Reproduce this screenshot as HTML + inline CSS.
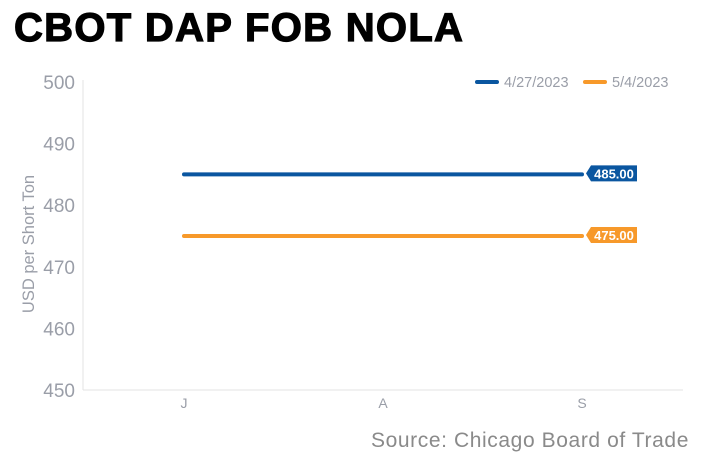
<!DOCTYPE html>
<html><head><meta charset="utf-8"><style>
body{margin:0;width:709px;height:465px;background:#fff;overflow:hidden;font-family:"Liberation Sans",sans-serif}
</style></head><body>
<svg width="709" height="465" xmlns="http://www.w3.org/2000/svg">
<text x="14" y="41" font-size="40" font-weight="bold" fill="#000" stroke="#000" stroke-width="1.2" style="letter-spacing:1.3px">CBOT DAP FOB NOLA</text>
<g id="axes"></g>
<g id="marks"></g>
<text x="689" y="447" text-anchor="end" font-size="21" fill="#8a8a8a" style="letter-spacing:0.6px">Source: Chicago Board of Trade</text>
</svg>
<script>
const categories=["J","A","S"];
const yTicks=[450,460,470,480,490,500];
const seriesNames=["4/27/2023","5/4/2023"];
const seriesColors=["#0a56a0","#f7992a"];
const series1=[485,485,485];
const series2=[475,475,475];
const NS="http://www.w3.org/2000/svg";
const x0=83,x1=683,yTop=82,yBot=390;
const y=v=>yBot-(v-450)/(500-450)*(yBot-yTop);
const x=i=>184+i*199;
function mk(tag,attrs,parent,text){const e=document.createElementNS(NS,tag);for(const k in attrs)e.setAttribute(k,attrs[k]);if(text!==undefined)e.textContent=text;parent.appendChild(e);return e;}
const ax=document.getElementById('axes'),mg=document.getElementById('marks');
let e=mk('line',{x1:x0,y1:80,x2:x0,y2:yBot,stroke:'#e3e3e3'},ax);

e=mk('line',{x1:x0,y1:yBot,x2:x1,y2:yBot,stroke:'#e3e3e3'},ax);

yTicks.forEach(t=>{const l=mk('text',{x:75,y:y(t)+7,'text-anchor':'end','font-size':'19',fill:'#9a9ea8'},ax,t);
});
categories.forEach((c,i)=>{const l=mk('text',{x:x(i),y:408,'text-anchor':'middle','font-size':'14',fill:'#9a9ea8'},ax,c);
});
const yt=mk('text',{x:0,y:0,'text-anchor':'middle','font-size':'16.5',fill:'#9a9ea8',transform:'translate(34,244) rotate(-90)'},ax,'USD per Short Ton');

[series1,series2].forEach((s,k)=>{
 const p=mk('polyline',{points:s.map((v,i)=>x(i)+','+y(v)).join(' '),fill:'none',stroke:seriesColors[k],'stroke-width':'4','stroke-linecap':'round'},mg);
 
 const last=s[s.length-1],ly=y(last)-1,lx=x(s.length-1)+4;
 const g=mk('g',{},mg);
 
 mk('path',{d:`M${lx} ${ly} L${lx+5} ${ly-8} L${lx+51} ${ly-8} L${lx+51} ${ly+8} L${lx+5} ${ly+8} Z`,fill:seriesColors[k]},g);
 mk('text',{x:lx+28,y:ly+5,'text-anchor':'middle','font-size':'13','font-weight':'bold',fill:'#fff'},g,last.toFixed(2));
 const lgx=k===0?477:585;
 const lg=mk('g',{},mg);
 
 mk('line',{x1:lgx,y1:82,x2:lgx+20,y2:82,stroke:seriesColors[k],'stroke-width':'4','stroke-linecap':'round'},lg);
 mk('text',{x:lgx+27,y:87,'font-size':'14.5',fill:'#9a9ea8'},lg,seriesNames[k]);
});
</script>
</body></html>
